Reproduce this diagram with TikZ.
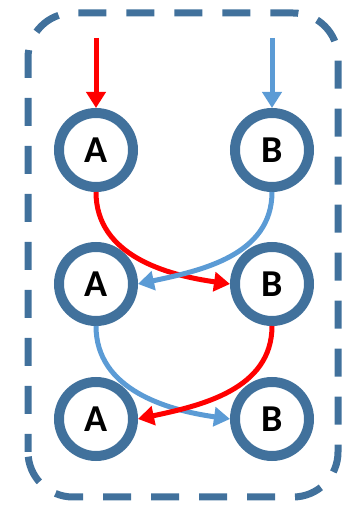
\documentclass[tikz,border=0pt]{standalone}
\usepackage{fontspec}
\setmainfont{Carlito}
\usetikzlibrary{arrows.meta}
\definecolor{ring}{HTML}{41719C}
\definecolor{lblue}{HTML}{5B9BD5}
\definecolor{rred}{HTML}{FF0000}
\begin{document}
\begin{tikzpicture}[x=1pt,y=1pt,
  state/.style={circle,draw=ring,line width=10pt,minimum size=74pt,inner sep=0pt,
    font=\bfseries\fontsize{38}{38}\selectfont},
  rarr/.style={draw=rred,line width=5pt,-{Triangle[length=16pt,width=19pt]}},
  barr/.style={draw=lblue,line width=5pt,-{Triangle[length=16pt,width=19pt]}}]
\useasboundingbox (0,0) rectangle (352,506);
\draw[ring,line width=7pt,dash pattern=on 28pt off 20pt,rounded corners=45pt,dash phase=10pt]
  (28,9) rectangle (338,493);
\node[state] (A1) at (96,356) {A};
\node[state] (B1) at (272,356) {B};
\node[state] (A2) at (96,222) {A};
\node[state] (B2) at (272,222) {B};
\node[state] (A3) at (96,87) {A};
\node[state] (B3) at (272,87) {B};
\coordinate (sa) at (96,468);
\coordinate (sb) at (272,468);
\draw[rarr] (sa) -- (A1);
\draw[barr] (sb) -- (B1);
\draw[rarr] (A1.south) to[out=-90,in=172] (B2.west);
\draw[barr] (B1.south) to[out=-90,in=12] (A2.east);
\draw[barr] (A2.south) to[out=-90,in=172] (B3.west);
\draw[rarr] (B2.south) to[out=-90,in=12] (A3.east);
\end{tikzpicture}
\end{document}
